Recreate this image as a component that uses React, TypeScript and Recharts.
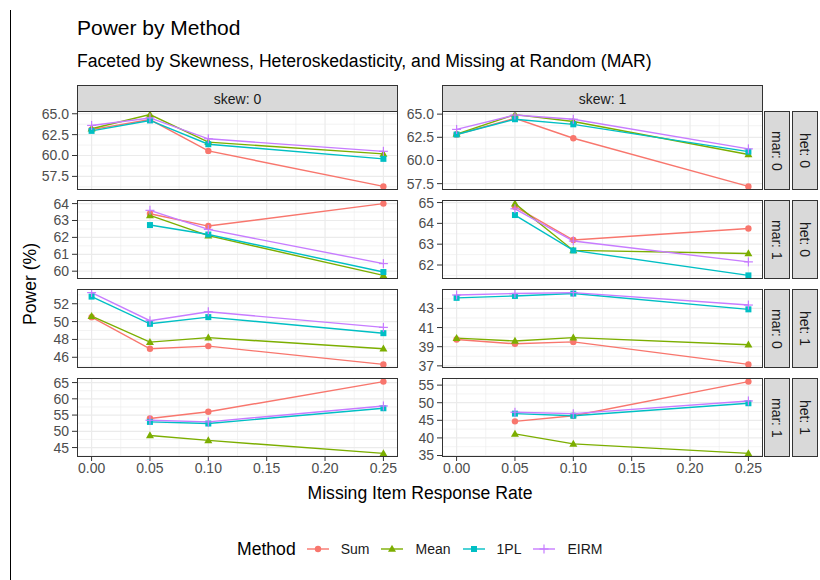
import React from 'react';
import { LineChart, Line, XAxis, YAxis, CartesianGrid } from 'recharts';

const FONT = '"Liberation Sans", Arial, Helvetica, sans-serif';

const RATES = [0, 0.05, 0.1, 0.25];
const X_TICKS = [0, 0.05, 0.1, 0.15, 0.2, 0.25];
const X_MINOR = [0.025, 0.075, 0.125, 0.175, 0.225];
const METHODS = ['Sum', 'Mean', '1PL', 'EIRM'];
const COLORS = ['#F8766D', '#7CAE00', '#00BFC4', '#C77CFF'];

// skew 0, het 0, mar 0
const SUM_S0H0M0 = [63.1, 64.3, 60.55, 56.3];
const MEAN_S0H0M0 = [63.2, 64.9, 61.6, 60.2];
const IPL_S0H0M0 = [62.95, 64.2, 61.35, 59.6];
const EIRM_S0H0M0 = [63.6, 64.5, 62.0, 60.5];
const TICKS_S0H0M0 = [57.5, 60, 62.5, 65];

// skew 1, het 0, mar 0
const SUM_S1H0M0 = [62.8, 64.55, 62.4, 57.2];
const MEAN_S1H0M0 = [62.85, 64.95, 64.2, 60.65];
const IPL_S1H0M0 = [62.8, 64.45, 63.9, 60.95];
const EIRM_S1H0M0 = [63.35, 64.9, 64.45, 61.25];
const TICKS_S1H0M0 = [57.5, 60, 62.5, 65];

// skew 0, het 0, mar 1
const SUM_S0H0M1 = [null, 63.4, 62.67, 64.0];
const MEAN_S0H0M1 = [null, 63.3, 62.1, 59.75];
const IPL_S0H0M1 = [null, 62.73, 62.17, 59.95];
const EIRM_S0H0M1 = [null, 63.6, 62.47, 60.45];
const TICKS_S0H0M1 = [60, 61, 62, 63, 64];

// skew 1, het 0, mar 1
const SUM_S1H0M1 = [null, 64.8, 63.2, 63.75];
const MEAN_S1H0M1 = [null, 64.95, 62.7, 62.55];
const IPL_S1H0M1 = [null, 64.4, 62.7, 61.5];
const EIRM_S1H0M1 = [null, 64.7, 63.15, 62.15];
const TICKS_S1H0M1 = [62, 63, 64, 65];

// skew 0, het 1, mar 0
const SUM_S0H1M0 = [50.5, 46.95, 47.25, 45.2];
const MEAN_S0H1M0 = [50.6, 47.7, 48.2, 46.95];
const IPL_S0H1M0 = [52.8, 49.75, 50.5, 48.7];
const EIRM_S0H1M0 = [53.25, 50.1, 51.1, 49.35];
const TICKS_S0H1M0 = [46, 48, 50, 52];

// skew 1, het 1, mar 0
const SUM_S1H1M0 = [39.75, 39.3, 39.5, 37.15];
const MEAN_S1H1M0 = [39.9, 39.6, 39.95, 39.2];
const IPL_S1H1M0 = [44.1, 44.3, 44.55, 42.9];
const EIRM_S1H1M0 = [44.4, 44.55, 44.65, 43.35];
const TICKS_S1H1M0 = [37, 39, 41, 43];

// skew 0, het 1, mar 1
const SUM_S0H1M1 = [null, 53.95, 56.0, 65.3];
const MEAN_S0H1M1 = [null, 48.7, 47.2, 43.2];
const IPL_S0H1M1 = [null, 52.9, 52.4, 57.1];
const EIRM_S0H1M1 = [null, 53.4, 52.9, 57.8];
const TICKS_S0H1M1 = [45, 50, 55, 60, 65];

// skew 1, het 1, mar 1
const SUM_S1H1M1 = [null, 44.7, 46.3, 56.0];
const MEAN_S1H1M1 = [null, 41.15, 38.3, 35.6];
const IPL_S1H1M1 = [null, 46.9, 46.3, 49.85];
const EIRM_S1H1M1 = [null, 47.3, 46.9, 50.5];
const TICKS_S1H1M1 = [35, 40, 45, 50, 55];

const PANELS = [
  { col: 0, row: 0, series: [SUM_S0H0M0, MEAN_S0H0M0, IPL_S0H0M0, EIRM_S0H0M0], ticks: TICKS_S0H0M0 },
  { col: 1, row: 0, series: [SUM_S1H0M0, MEAN_S1H0M0, IPL_S1H0M0, EIRM_S1H0M0], ticks: TICKS_S1H0M0 },
  { col: 0, row: 1, series: [SUM_S0H0M1, MEAN_S0H0M1, IPL_S0H0M1, EIRM_S0H0M1], ticks: TICKS_S0H0M1 },
  { col: 1, row: 1, series: [SUM_S1H0M1, MEAN_S1H0M1, IPL_S1H0M1, EIRM_S1H0M1], ticks: TICKS_S1H0M1 },
  { col: 0, row: 2, series: [SUM_S0H1M0, MEAN_S0H1M0, IPL_S0H1M0, EIRM_S0H1M0], ticks: TICKS_S0H1M0 },
  { col: 1, row: 2, series: [SUM_S1H1M0, MEAN_S1H1M0, IPL_S1H1M0, EIRM_S1H1M0], ticks: TICKS_S1H1M0 },
  { col: 0, row: 3, series: [SUM_S0H1M1, MEAN_S0H1M1, IPL_S0H1M1, EIRM_S0H1M1], ticks: TICKS_S0H1M1 },
  { col: 1, row: 3, series: [SUM_S1H1M1, MEAN_S1H1M1, IPL_S1H1M1, EIRM_S1H1M1], ticks: TICKS_S1H1M1 },
];

const COL_STRIPS = ['skew: 0', 'skew: 1'];
const MAR_STRIPS = ['mar: 0', 'mar: 1', 'mar: 0', 'mar: 1'];
const HET_STRIPS = ['het: 0', 'het: 0', 'het: 1', 'het: 1'];

const PW = 321;
const PH = 79;
const YW = 44;
const PADV = 8;
const COL_X = [77, 442];
const ROW_Y = [111, 200, 289, 378];
const STRIP = 26;

function Shape({ cx, cy, idx }: { cx: number; cy: number; idx: number }) {
  const c = COLORS[idx];
  if (idx === 0) return <circle cx={cx} cy={cy} r={3.2} fill={c} />;
  if (idx === 1)
    return <polygon points={`${cx},${cy - 4.2} ${cx + 4},${cy + 2.8} ${cx - 4},${cy + 2.8}`} fill={c} />;
  if (idx === 2) return <rect x={cx - 3} y={cy - 3} width={6} height={6} fill={c} />;
  return (
    <g stroke={c} strokeWidth={1.2}>
      <line x1={cx - 4.5} x2={cx + 4.5} y1={cy} y2={cy} />
      <line x1={cx} x2={cx} y1={cy - 4.5} y2={cy + 4.5} />
    </g>
  );
}

function fmtTick(ticks: number[]) {
  const dec = ticks.some((t) => !Number.isInteger(t)) ? 1 : 0;
  return (v: number) => v.toFixed(dec);
}

function Panel({ p }: { p: (typeof PANELS)[number] }) {
  const data = RATES.map((r, i) => {
    const d: Record<string, number | null> = { rate: r };
    METHODS.forEach((m, k) => (d[m] = p.series[k][i]));
    return d;
  });
  const vals = p.series.flat().filter((v) => v != null) as number[];
  const lo = Math.min(...vals);
  const hi = Math.max(...vals);
  const pad = (hi - lo) * 0.05;
  const domain = [lo - pad, hi + pad];
  const step = p.ticks[1] - p.ticks[0];
  const minorY = [p.ticks[0] - step / 2, ...p.ticks.map((t) => t + step / 2)].filter(
    (v) => v > domain[0] && v < domain[1]
  );
  const bottom = p.row === 3;
  const left = COL_X[p.col];
  const top = ROW_Y[p.row];
  const tickStyle = { fill: '#4D4D4D', fontSize: 14, fontFamily: FONT };

  return (
    <>
      <div style={{ position: 'absolute', left: left - YW, top: top - PADV }}>
        <LineChart
          width={YW + PW}
          height={PH + PADV * 2 + (bottom ? 30 : 0)}
          data={data}
          margin={{ top: PADV, right: 0, bottom: PADV, left: 0 }}
        >
          <CartesianGrid
            stroke="#EBEBEB"
            strokeWidth={0.6}
            horizontalValues={minorY}
            verticalValues={X_MINOR}
            syncWithTicks={false}
          />
          <CartesianGrid
            stroke="#EBEBEB"
            strokeWidth={1.2}
            horizontalValues={p.ticks}
            verticalValues={X_TICKS}
            syncWithTicks={false}
          />
          <XAxis
            type="number"
            dataKey="rate"
            domain={[-0.0125, 0.2625]}
            allowDataOverflow
            ticks={X_TICKS}
            interval={0}
            hide={!bottom}
            height={30}
            tickFormatter={(v: number) => v.toFixed(2)}
            tick={tickStyle}
            tickSize={4}
            tickMargin={2}
            axisLine={false}
            tickLine={{ stroke: '#333333' }}
          />
          <YAxis
            type="number"
            domain={domain}
            allowDataOverflow
            ticks={p.ticks}
            interval={0}
            width={YW}
            tickFormatter={fmtTick(p.ticks)}
            tick={tickStyle}
            tickSize={5}
            tickMargin={3}
            axisLine={false}
            tickLine={{ stroke: '#333333' }}
          />
          {METHODS.map((m, k) => (
            <Line
              key={'l' + m}
              dataKey={m}
              stroke={COLORS[k]}
              strokeWidth={1.4}
              dot={false}
              isAnimationActive={false}
            />
          ))}
          {METHODS.map((m, k) => (
            <Line
              key={'p' + m}
              dataKey={m}
              stroke="none"
              dot={(d: any) =>
                d.cy == null || d.value == null ? (
                  <g key={d.index} />
                ) : (
                  <Shape key={d.index} cx={d.cx} cy={d.cy} idx={k} />
                )
              }
              activeDot={false}
              isAnimationActive={false}
            />
          ))}
        </LineChart>
      </div>
      <div
        style={{
          position: 'absolute',
          left,
          top,
          width: PW,
          height: PH,
          border: '1.2px solid #333333',
          boxSizing: 'border-box',
          pointerEvents: 'none',
        }}
      />
    </>
  );
}

const stripBase: React.CSSProperties = {
  position: 'absolute',
  background: '#D9D9D9',
  border: '1.2px solid #333333',
  boxSizing: 'border-box',
  display: 'flex',
  alignItems: 'center',
  justifyContent: 'center',
  fontSize: 14,
  color: '#1A1A1A',
  fontFamily: FONT,
};

export default function App() {
  return (
    <div
      style={{
        position: 'absolute',
        left: 0,
        top: 0,
        width: 820,
        height: 580,
        background: '#FFFFFF',
        fontFamily: FONT,
        overflow: 'hidden',
      }}
    >
      <div style={{ position: 'absolute', left: 10, top: 10, width: 1.2, height: 570, background: '#000' }} />
      <div style={{ position: 'absolute', left: 77, top: 17, fontSize: 21, lineHeight: 1, color: '#000' }}>
        Power by Method
      </div>
      <div style={{ position: 'absolute', left: 77, top: 53, fontSize: 17.6, lineHeight: 1, color: '#000' }}>
        Faceted by Skewness, Heteroskedasticity, and Missing at Random (MAR)
      </div>

      {COL_STRIPS.map((s, i) => (
        <div key={s} style={{ ...stripBase, left: COL_X[i], top: ROW_Y[0] - STRIP, width: PW, height: STRIP + 1 }}>
          {s}
        </div>
      ))}
      {ROW_Y.map((y, i) => (
        <React.Fragment key={i}>
          <div
            style={{
              ...stripBase,
              left: COL_X[1] + PW + 1,
              top: y,
              width: STRIP,
              height: PH,
              writingMode: 'vertical-rl',
            }}
          >
            {MAR_STRIPS[i]}
          </div>
          <div
            style={{
              ...stripBase,
              left: COL_X[1] + PW + STRIP + 3,
              top: y,
              width: STRIP,
              height: PH,
              writingMode: 'vertical-rl',
            }}
          >
            {HET_STRIPS[i]}
          </div>
        </React.Fragment>
      ))}

      {PANELS.map((p) => (
        <Panel key={`${p.col}-${p.row}`} p={p} />
      ))}

      <div
        style={{
          position: 'absolute',
          left: 30,
          top: 284,
          transform: 'translate(-50%, -50%) rotate(-90deg)',
          fontSize: 17.6,
          whiteSpace: 'nowrap',
          color: '#000',
        }}
      >
        Power (%)
      </div>
      <div
        style={{
          position: 'absolute',
          left: (COL_X[0] + COL_X[1] + PW) / 2,
          top: 493,
          transform: 'translate(-50%, -50%)',
          fontSize: 17.6,
          whiteSpace: 'nowrap',
          color: '#000',
        }}
      >
        Missing Item Response Rate
      </div>

      <div style={{ position: 'absolute', left: 237, top: 538, height: 22, display: 'flex', alignItems: 'center' }}>
        <span style={{ fontSize: 17.6, marginRight: 11, color: '#000' }}>Method</span>
        {METHODS.map((m, k) => (
          <span key={m} style={{ display: 'flex', alignItems: 'center', marginRight: 12 }}>
            <svg width={22} height={16}>
              <line x1={0} x2={22} y1={8} y2={8} stroke={COLORS[k]} strokeWidth={1.4} />
              <Shape cx={11} cy={8} idx={k} />
            </svg>
            <span style={{ fontSize: 14, marginLeft: 12, color: '#1A1A1A' }}>{m}</span>
          </span>
        ))}
      </div>
    </div>
  );
}
